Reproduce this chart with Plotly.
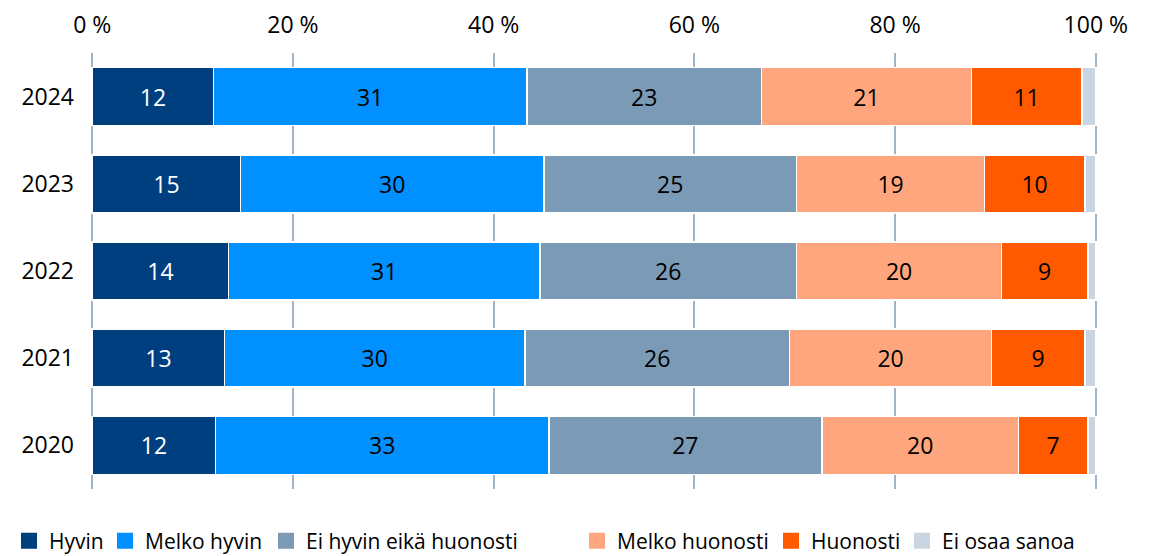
import plotly.graph_objects as go

# Survey answers per year, share of respondents (%)
years = ["2024", "2023", "2022", "2021", "2020"]
hyvin = [12.1, 14.8, 13.6, 13.2, 12.3]
melko_hyvin = [31.2, 30.2, 31.0, 29.9, 33.2]
ei_hyvin_eika_huonosti = [23.4, 25.2, 25.6, 26.4, 27.2]
melko_huonosti = [20.9, 18.7, 20.4, 20.1, 19.6]
huonosti = [11.0, 10.0, 8.6, 9.3, 6.9]
ei_osaa_sanoa = [1.4, 1.1, 0.8, 1.1, 0.8]

x_ticks = [0, 20, 40, 60, 80, 100]
x_tick_labels = ["0 %", "20 %", "40 %", "60 %", "80 %", "100 %"]

series = [
    ("Hyvin", hyvin, "#003F7F", "white", True),
    ("Melko hyvin", melko_hyvin, "#0090FF", "black", True),
    ("Ei hyvin eikä huonosti", ei_hyvin_eika_huonosti, "#7A9AB5", "black", True),
    ("Melko huonosti", melko_huonosti, "#FFA67E", "black", True),
    ("Huonosti", huonosti, "#FF5A00", "black", True),
    ("Ei osaa sanoa", ei_osaa_sanoa, "#C9D6E2", "black", False),
]

FONT = "Open Sans"
FS = 23
W, H = 1140, 548  # page body has an 8px default margin

# left edge (px) of each legend entry, one small legend per entry
legend_left = [1, 97, 258, 569, 763, 894]

fig = go.Figure()
for i, (name, vals, color, txtcol, labelled) in enumerate(series):
    lg = "legend" if i == 0 else f"legend{i + 1}"
    fig.add_trace(
        go.Bar(
            y=years,
            x=vals,
            name=name,
            orientation="h",
            marker=dict(color=color, line=dict(color="white", width=1.5)),
            texttemplate="%{x:.0f}" if labelled else None,
            textposition="inside" if labelled else "none",
            insidetextanchor="middle",
            textangle=0,
            textfont=dict(color=txtcol, size=FS, family=FONT),
            hoverinfo="x+name",
            showlegend=False,
        )
    )
    # legend-only marker so the swatch is a bigger square
    fig.add_trace(
        go.Scatter(
            x=[None],
            y=[None],
            mode="markers",
            name=name,
            marker=dict(symbol="square", size=22, color=color),
            showlegend=True,
            legend=lg,
        )
    )
    fig.update_layout({
        lg: dict(
            orientation="h",
            x=legend_left[i] / W,
            xanchor="left",
            xref="container",
            y=(H - 533) / H,
            yanchor="middle",
            yref="container",
            font=dict(size=21),
            itemsizing="trace",
            itemwidth=30,
            bgcolor="rgba(0,0,0,0)",
        )
    })

fig.update_layout(
    barmode="stack",
    bargap=0.335,
    width=W,
    height=H,
    plot_bgcolor="white",
    paper_bgcolor="white",
    margin=dict(l=83, r=51, t=45, b=67, autoexpand=False),
    font=dict(family=FONT, size=FS, color="black"),
    uniformtext=dict(minsize=FS, mode="show"),
)

fig.update_xaxes(
    side="top",
    range=[-0.12, 100.12],
    tickvals=x_ticks,
    ticktext=x_tick_labels,
    showgrid=True,
    gridcolor="#A3B3C9",
    gridwidth=1.5,
    zeroline=False,
    showline=False,
    ticks="",
    ticklabelstandoff=14,
    tickfont=dict(size=FS),
    fixedrange=True,
)
fig.update_yaxes(
    categoryorder="array",
    categoryarray=years[::-1],
    showgrid=False,
    zeroline=False,
    ticks="",
    ticklabelstandoff=16,
    tickfont=dict(size=FS),
    fixedrange=True,
)

fig.write_html("out.html")
